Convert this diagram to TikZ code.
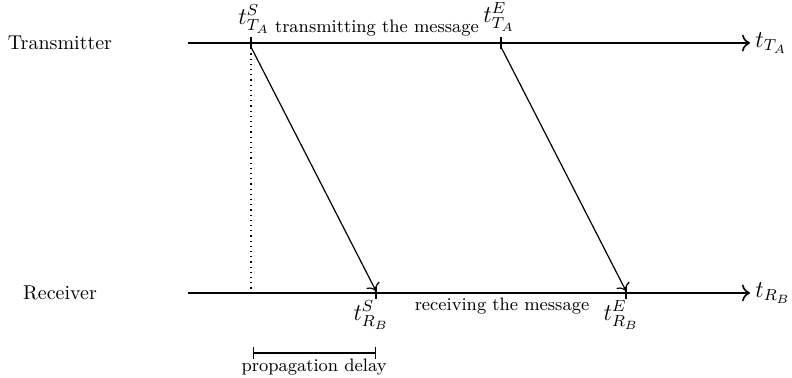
\documentclass[tikz,border=0pt]{standalone}
\usetikzlibrary{arrows.meta}
\begin{document}
\begin{tikzpicture}[x=0.5pt,y=-0.5pt,
  axis/.style={thick,-{To[length=4pt]}},
  msg/.style={semithick,-{To[length=3.5pt]}},
  tick/.style={semithick},
  lbl/.style={inner sep=0.5pt},
  mlbl/.style={inner sep=0.5pt,font=\large}]
\useasboundingbox (0,0) rectangle (792,378);
% axes
\coordinate (ta0) at (188,43);
\coordinate (ta1) at (750,43);
\coordinate (rb0) at (188,293);
\coordinate (rb1) at (750,293);
\draw[axis] (ta0) -- (ta1);
\draw[axis] (rb0) -- (rb1);
\node[mlbl,anchor=west] (tA) at ([xshift=2pt]ta1) {$t_{T_A}$};
\node[mlbl,anchor=west] (tB) at ([xshift=2pt]rb1) {$t_{R_B}$};
\node[lbl] (trans) at (60,43) {Transmitter};
\node[lbl] (recv) at (60,293) {Receiver};
% ticks
\coordinate (s1) at (251,43);
\coordinate (e1) at (501,43);
\coordinate (s2) at (376,293);
\coordinate (e2) at (626,293);
\draw[tick] ([yshift=3pt]s1) -- ([yshift=-3pt]s1);
\draw[tick] ([yshift=3pt]e1) -- ([yshift=-3pt]e1);
\draw[tick] ([yshift=3pt]s2) -- ([yshift=-3pt]s2);
\draw[tick] ([yshift=3pt]e2) -- ([yshift=-3pt]e2);
% messages
\draw[msg] ([yshift=-2pt]s1) -- ([yshift=1pt]s2);
\draw[msg] ([yshift=-2pt]e1) -- ([yshift=1pt]e2);
\coordinate (d1) at (251,289);
\draw[dotted,semithick] (s1) -- (d1);
% labels
\node[mlbl] (ltS) at (254,19) {$t^S_{T_A}$};
\node[mlbl] (ltE) at (499,17) {$t^E_{T_A}$};
\node[lbl,font=\small] (txt1) at (377,28) {transmitting the message};
\node[mlbl] (lrS) at (371,315) {$t^S_{R_B}$};
\node[mlbl] (lrE) at (621,315) {$t^E_{R_B}$};
\node[lbl,font=\small] (txt2) at (502,306) {receiving the message};
% propagation delay
\coordinate (p1) at (253,353);
\coordinate (p2) at (376,353);
\draw[semithick,{Bar[width=6pt]}-{Bar[width=6pt]}] (p1) -- (p2);
\node[lbl,font=\small] (pd) at (314,367) {propagation delay};
\end{tikzpicture}
\end{document}
